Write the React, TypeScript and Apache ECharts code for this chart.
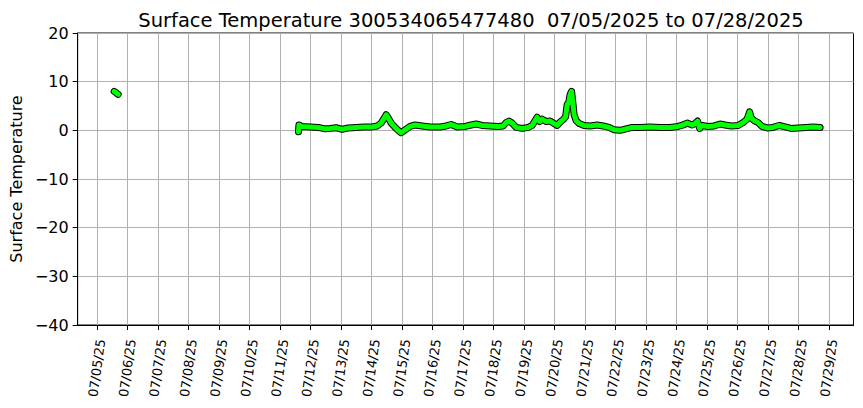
import { useEffect, useRef } from "react";
import * as echarts from "echarts";

const titleText = "Surface Temperature 300534065477480  07/05/2025 to 07/28/2025";
const yAxisName = "Surface Temperature";

const tickLabels = [
  "07/05/25", "07/06/25", "07/07/25", "07/08/25", "07/09/25", "07/10/25",
  "07/11/25", "07/12/25", "07/13/25", "07/14/25", "07/15/25", "07/16/25",
  "07/17/25", "07/18/25", "07/19/25", "07/20/25", "07/21/25", "07/22/25",
  "07/23/25", "07/24/25", "07/25/25", "07/26/25", "07/27/25", "07/28/25",
  "07/29/25",
];

const yTicks = [-40, -30, -20, -10, 0, 10, 20];

// first short burst of readings
const firstTimes = ["07/05 13:37", "07/05 14:48", "07/05 15:58", "07/05 16:45"];
const firstTemps = [8.0, 7.8, 7.5, 7.4];

// main record
const mainTimes = [
  "07/11 14:38", "07/11 15:01", "07/11 17:33", "07/11 23:50", "07/12 06:08",
  "07/12 10:51", "07/12 15:34", "07/12 20:18", "07/13 01:02", "07/13 05:44",
  "07/13 12:02", "07/13 18:20", "07/14 00:37", "07/14 04:34", "07/14 07:42",
  "07/14 10:05", "07/14 11:38", "07/14 13:13", "07/14 15:34", "07/14 18:43",
  "07/14 21:05", "07/14 23:27", "07/15 02:36", "07/15 06:32", "07/15 10:28",
  "07/15 15:59", "07/15 22:16", "07/16 06:08", "07/16 10:51", "07/16 14:47",
  "07/16 19:31", "07/17 01:48", "07/17 06:32", "07/17 10:28", "07/17 15:11",
  "07/17 21:29", "07/18 03:46", "07/18 07:42", "07/18 10:05", "07/18 12:26",
  "07/18 14:47", "07/18 17:57", "07/18 22:39", "07/19 03:23", "07/19 06:32",
  "07/19 08:53", "07/19 10:28", "07/19 12:26", "07/19 14:24", "07/19 17:33",
  "07/19 20:41", "07/19 23:50", "07/20 02:12", "07/20 04:34", "07/20 06:56",
  "07/20 08:53", "07/20 10:05", "07/20 11:15", "07/20 12:26", "07/20 13:36",
  "07/20 14:24", "07/20 14:47", "07/20 15:34", "07/20 17:10", "07/20 19:31",
  "07/20 23:27", "07/21 04:10", "07/21 09:40", "07/21 14:24", "07/21 19:07",
  "07/21 23:04", "07/22 03:46", "07/22 08:30", "07/22 13:13", "07/22 19:31",
  "07/23 03:23", "07/23 11:15", "07/23 19:07", "07/24 01:25", "07/24 05:21",
  "07/24 08:30", "07/24 12:26", "07/24 14:47", "07/24 16:45", "07/24 18:20",
  "07/24 20:18", "07/25 01:02", "07/25 05:44", "07/25 10:28", "07/25 14:24",
  "07/25 19:07", "07/26 00:37", "07/26 04:34", "07/26 07:42", "07/26 09:40",
  "07/26 10:51", "07/26 13:13", "07/26 16:22", "07/26 19:31", "07/26 23:27",
  "07/27 04:10", "07/27 08:53", "07/27 13:36", "07/27 18:20", "07/27 23:50",
  "07/28 06:08", "07/28 11:38", "07/28 17:10",
];
const mainTemps = [
  -0.3, 1.1, 0.8, 0.7, 0.6,
  0.35, 0.4, 0.55, 0.2, 0.5,
  0.6, 0.7, 0.7, 0.9, 1.5,
  2.5, 3.2, 2.6, 1.5, 0.6,
  0.0, -0.5, 0.1, 0.8, 1.1,
  0.9, 0.7, 0.7, 0.9, 1.2,
  0.7, 0.8, 1.1, 1.3, 1.0,
  0.9, 0.8, 0.9, 1.6, 1.9,
  1.5, 0.6, 0.4, 0.6, 1.0,
  2.0, 2.7, 1.8, 2.3, 1.8,
  1.9, 1.4, 1.0, 1.7, 2.2,
  2.8, 5.3, 5.6, 7.4, 8.0,
  6.0, 5.2, 3.2, 2.0, 1.4,
  1.0, 0.9, 1.1, 0.9, 0.6,
  0.1, 0.0, 0.3, 0.6, 0.6,
  0.7, 0.6, 0.6, 0.8, 1.1,
  1.5, 1.1, 1.4, 1.9, 0.4,
  1.0, 0.8, 0.9, 1.3, 1.1,
  0.9, 1.0, 1.6, 2.3, 3.8,
  2.6, 2.0, 1.6, 0.8, 0.5,
  0.6, 1.0, 0.7, 0.4, 0.5,
  0.6, 0.7, 0.6,
];

const FONT = "DejaVu Sans";

function toDays(t: string): number {
  const [md, hm] = t.split(" ");
  const dd = Number(md.split("/")[1]);
  const [h, m] = hm.split(":").map(Number);
  return dd - 5 + (h + m / 60) / 24;
}

function pairs(times: string[], temps: number[]) {
  return times.map((t, i) => [toDays(t), temps[i]]);
}

export default function App() {
  const ref = useRef<HTMLDivElement>(null);
  useEffect(() => {
    if (!ref.current) return;
    const chart = echarts.init(ref.current, null, { renderer: "svg" });
    const seg1 = pairs(firstTimes, firstTemps);
    const seg2 = pairs(mainTimes, mainTemps);
    const tickVals = tickLabels.map((_, i) => i);
    const outline = (data: number[][]) => ({
      type: "line",
      data,
      symbol: "none",
      lineStyle: { color: "#000", width: 7, cap: "round", join: "round" },
      silent: true,
    });
    const fill = (data: number[][]) => ({
      type: "line",
      data,
      symbol: "none",
      lineStyle: { color: "#00ff00", width: 5, cap: "round", join: "round" },
      silent: true,
    });
    chart.setOption({
      animation: false,
      backgroundColor: "#fff",
      textStyle: { fontFamily: FONT },
      title: {
        text: titleText,
        left: 466,
        textAlign: "center",
        top: 5,
        textStyle: { fontFamily: FONT, fontSize: 19.5, fontWeight: "normal", color: "#000" },
      },
      grid: {
        left: 77.5,
        right: 9.5,
        top: 33,
        bottom: 83,
        show: true,
        borderColor: "#000",
        borderWidth: 1,
        backgroundColor: "transparent",
        containLabel: false,
      },
      xAxis: {
        type: "value",
        min: -0.63,
        max: 24.81,
        axisLine: { show: true, onZero: false, lineStyle: { color: "#000", width: 1 } },
        axisTick: { show: true, length: 5, lineStyle: { color: "#000" }, customValues: tickVals },
        axisLabel: {
          customValues: tickVals,
          rotate: 82,
          align: "center",
          verticalAlign: "middle",
          margin: 43,
          fontSize: 13,
          fontFamily: FONT,
          color: "#000",
          formatter: (v: number) => tickLabels[Math.round(v)] ?? "",
        },
        splitLine: { show: true, lineStyle: { color: "#b0b0b0", width: 1 } },
      },
      yAxis: {
        type: "value",
        min: -40,
        max: 20,
        interval: 10,
        name: yAxisName,
        nameLocation: "middle",
        nameGap: 51,
        nameRotate: 90,
        nameTextStyle: { fontFamily: FONT, fontSize: 16, color: "#000" },
        axisLine: { show: true, onZero: false, lineStyle: { color: "#000", width: 1 } },
        axisTick: { show: true, length: 5, lineStyle: { color: "#000" } },
        axisLabel: {
          margin: 9,
          fontSize: 16,
          fontFamily: FONT,
          color: "#000",
          formatter: (v: number) => (yTicks.includes(v) ? String(v).replace("-", "\u2212") : ""),
        },
        splitLine: { show: true, lineStyle: { color: "#b0b0b0", width: 1 } },
      },
      series: [outline(seg1), outline(seg2), fill(seg1), fill(seg2)],
    });
    return () => chart.dispose();
  }, []);
  return (
    <div
      ref={ref}
      style={{ position: "fixed", left: 0, top: 0, width: 863, height: 408 }}
    />
  );
}
